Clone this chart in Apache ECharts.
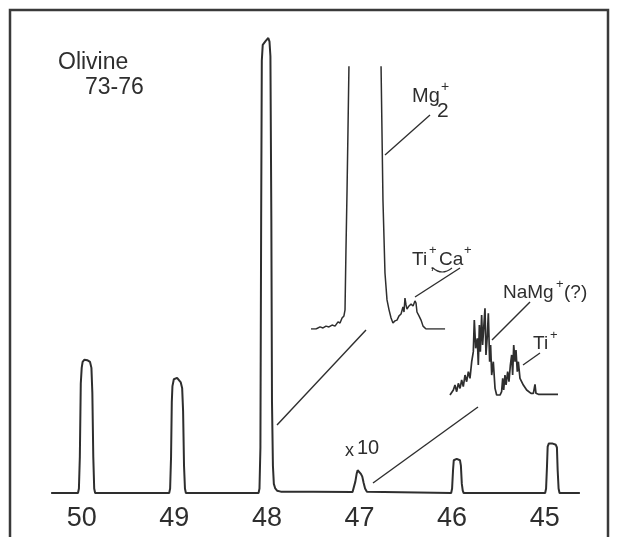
<!DOCTYPE html>
<html>
<head>
<meta charset="utf-8">
<script src="https://cdn.jsdelivr.net/npm/echarts@6/dist/echarts.min.js"></script>
<style>
html,body{margin:0;padding:0;background:#fff;}
#c{width:621px;height:537px;}
</style>
</head>
<body>
<div id="c"></div>
<script>
// ---- tick labels (mass number, decreasing to the right) ----
const massTicks = [50, 49, 48, 47, 46, 45];

// ---- main spectrum: mass and relative intensity (48 peak = 100) ----
const mainMass = [
  50.33, 50.04, 50.03, 50.02, 50.01, 50.00, 49.99, 49.97, 49.94, 49.91, 49.895, 49.885, 49.875, 49.865, 49.855,
  49.055, 49.045, 49.035, 49.027, 49.02, 49.005, 48.99, 48.97, 48.95, 48.93, 48.915, 48.905, 48.895, 48.885, 48.875,
  48.09, 48.08, 48.07, 48.062, 48.055, 48.045, 48.03, 48.015, 48.0, 47.985, 47.972, 47.962, 47.952, 47.945, 47.935, 47.925, 47.91, 47.89, 47.85, 47.5,
  47.075, 47.06, 47.045, 47.03, 47.02, 47.01, 47.0, 46.985, 46.97, 46.955, 46.94, 46.92, 46.9,
  46.01, 46.0, 45.99, 45.982, 45.97, 45.95, 45.93, 45.915, 45.905, 45.895, 45.885, 45.875,
  44.995, 44.985, 44.975, 44.968, 44.955, 44.94, 44.92, 44.9, 44.88, 44.868, 44.86, 44.85, 44.84, 44.62
];
const mainSignal = [
  0, 0, 1, 8, 24, 27.5, 28.8, 29.3, 29.2, 28.8, 27.5, 22, 8, 1, 0,
  0, 1, 8, 20, 23.5, 25, 25.4, 25.3, 25, 24.3, 23, 18, 6, 1, 0,
  0, 1, 10, 60, 95, 98.5, 98.8, 99.3, 99.6, 100, 99.2, 96, 60, 20, 6, 2, 1, 0.5, 0.3, 0.3,
  0.2, 0.5, 2.5, 4.3, 5.0, 5.1, 4.6, 4.2, 3.6, 2.2, 1.0, 0.3, 0,
  0, 1, 5, 7.2, 7.5, 7.5, 7.4, 7.2, 6, 2, 0.5, 0,
  0, 1, 6, 10.2, 10.9, 11.0, 10.9, 10.8, 10.6, 10, 5, 1, 0, 0
];

// ---- inset 1: high-resolution scan of mass 48 (Mg2+ and Ti+,Ca+) ----
const inset1X = [
  0, 3.7, 6.7, 8.9, 11.1, 13.3, 15.6, 17.8, 20, 21.5, 23, 24.4, 25.2, 25.9, 26.7, 27.4, 28.1, 40,
  51.9, 53.3, 54.8, 56.3, 57.8, 59.3, 60.7, 62.2, 63.7, 65.2, 66.7, 68.1, 68.9, 69.6, 70.4, 71.1, 72.6, 74.1, 75.6, 77, 77.8, 78.5, 80, 81.5, 83, 85.2, 91.9, 99.3
];
const inset1Y = [
  0, 0, 0.8, 0.4, 1.1, 0.8, 1.5, 1.1, 2.7, 2.3, 4.2, 5, 7.3, 30.2, 53, 76, 100, 400,
  100, 49.2, 21.4, 11.1, 7.3, 4.2, 2.3, 3.1, 3.4, 5, 5.7, 8.4, 6.5, 11.8, 9.2, 7.6, 8.8, 9.5, 8.8, 10.7, 9.9, 6.5, 5, 3.4, 1.1, 0, 0, 0
];

// ---- inset 2: high-resolution scan of mass 47 (NaMg+(?) and Ti+) ----
const inset2X = [
  0, 3.1, 4.6, 6.2, 7.7, 9.3, 10.8, 12.3, 13.9, 15.4, 17, 18.5, 20.1, 21.6, 22.5, 23.8, 25.3, 26.2, 27.2, 28.1,
  29.3, 30.2, 31.2, 32.4, 33.3, 34.6, 35.5, 36.7, 37.6, 38.6, 40.1, 41.7, 43.2, 44.8, 46.3, 47.8, 48.8, 49.7,
  50.9, 51.9, 53.4, 54.6, 55.9, 57.1, 58, 59, 60.2, 61.1, 62.3, 63.3, 64.8, 66.4, 67.9, 69.4, 71, 72.5, 75,
  77.2, 78.7, 79.6, 81.8, 100
];
const inset2Y = [
  1.1, 6.7, 12.2, 4.8, 14.1, 8.5, 17.8, 10.4, 23.3, 15.9, 27, 19.6, 38.1, 49.3, 84.4, 53, 64.1, 34.4, 78.9, 49.3,
  90, 56.7, 75.2, 97.4, 45.6, 67.8, 91.9, 38.1, 56.7, 23.3, 38.1, 8.5, 1.1, 0, 1.1, 4.8, 19.6, 6.7,
  23.3, 12.2, 27, 15.9, 34.4, 45.6, 23.3, 56.7, 38.1, 51.1, 27, 38.1, 19.6, 21.5, 12.2, 14.1, 6.7, 4.8, 3,
  3, 13, 3, 1.9, 1.9
];

const zip = (a, b) => a.map((v, i) => [v, b[i]]);
const INK = '#2e2e2e';
const FONT = '"Liberation Sans", Arial, sans-serif';

const chart = echarts.init(document.getElementById('c'), null, {renderer: 'canvas'});

function txt(x, y, s, size, align) {
  return {type: 'text', x: x, y: y, silent: true,
    style: {text: s, fill: INK, fontSize: size, fontFamily: FONT, align: align || 'left', verticalAlign: 'middle'}};
}
function seg(x1, y1, x2, y2, w) {
  return {type: 'line', silent: true, shape: {x1: x1, y1: y1, x2: x2, y2: y2},
    style: {stroke: INK, lineWidth: w || 1.4}};
}

const hiddenAxis = (i, min, max) => ({type: 'value', gridIndex: i, min: min, max: max, show: false});

chart.setOption({
  backgroundColor: '#ffffff',
  animation: false,
  grid: [
    {left: -10.9, right: -16.3, top: 38, bottom: 44, outerBoundsMode: 'none', containLabel: false},
    {left: 311, top: 67, width: 135, height: 262, outerBoundsMode: 'none'},
    {left: 450, top: 306, width: 108, height: 90, outerBoundsMode: 'none'}
  ],
  xAxis: [
    {type: 'value', gridIndex: 0, min: 44, max: 51, interval: 1, inverse: true,
      axisLine: {show: false}, axisTick: {show: false}, splitLine: {show: false},
      axisLabel: {margin: 12, color: INK, fontSize: 27, fontFamily: FONT,
        formatter: v => massTicks.indexOf(v) >= 0 ? String(v) : ''}},
    hiddenAxis(1, 0, 100),
    hiddenAxis(2, 0, 100)
  ],
  yAxis: [
    {type: 'value', gridIndex: 0, min: 0, max: 100, show: false, splitLine: {show: false}},
    hiddenAxis(1, 0, 100),
    hiddenAxis(2, 0, 100)
  ],
  series: [
    {type: 'line', xAxisIndex: 0, yAxisIndex: 0, data: zip(mainMass, mainSignal),
      showSymbol: false, symbol: 'none', silent: true, lineStyle: {color: INK, width: 2}},
    {type: 'line', xAxisIndex: 1, yAxisIndex: 1, data: zip(inset1X, inset1Y), clip: true,
      showSymbol: false, symbol: 'none', silent: true, lineStyle: {color: INK, width: 1.5}},
    {type: 'line', xAxisIndex: 2, yAxisIndex: 2, data: zip(inset2X, inset2Y), clip: true,
      showSymbol: false, symbol: 'none', silent: true, lineStyle: {color: INK, width: 1.7}}
  ],
  graphic: [
    {type: 'rect', silent: true, shape: {x: 10, y: 10, width: 598, height: 545},
      style: {fill: 'none', stroke: '#3a3a3a', lineWidth: 2.5}},
    txt(58, 63, 'Olivine', 23),
    txt(85, 88, '73-76', 23),
    // Mg2+
    txt(412, 96, 'Mg', 20),
    txt(441, 87, '+', 14),
    txt(437, 111, '2', 21),
    seg(385, 155, 430, 115),
    // Ti+, Ca+
    txt(412, 260, 'Ti', 19),
    txt(429, 250, '+', 13),
    txt(430, 264, ',', 17),
    txt(439, 260, 'Ca', 19),
    txt(464, 250, '+', 13),
    {type: 'bezierCurve', silent: true, shape: {x1: 433, y1: 268, x2: 452, y2: 268, cpx1: 442, cpy1: 276},
      style: {stroke: INK, lineWidth: 1.2, fill: 'none'}},
    seg(415, 297, 460, 268),
    // NaMg+(?)
    txt(503, 293, 'NaMg', 19),
    txt(556, 284, '+', 13),
    txt(564, 293, '(?)', 19),
    seg(492, 340, 530, 302),
    // Ti+
    txt(533, 344, 'Ti', 19),
    txt(550, 335, '+', 13),
    seg(523, 365, 540, 353),
    // x10 and zoom connectors
    txt(345, 451, 'x', 18),
    txt(357, 448, '10', 20),
    seg(277, 425, 366, 330),
    seg(373, 483, 478, 407)
  ]
});
</script>
</body>
</html>
